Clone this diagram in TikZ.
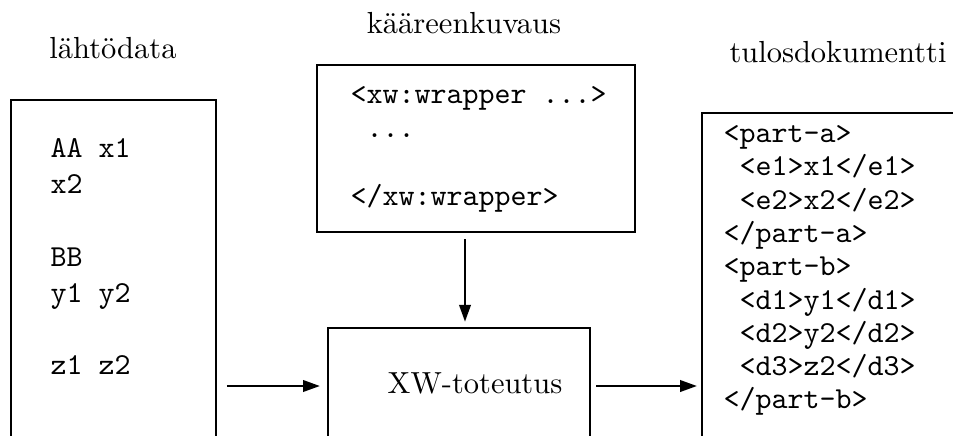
\documentclass[tikz,border=0pt]{standalone}
\usepackage{fontspec}
\usetikzlibrary{arrows.meta,fit}
\begin{document}
\begin{tikzpicture}[x=0.328pt,y=-0.328pt,
  box/.style={draw, line width=0.95pt, inner sep=0pt, outer sep=0pt},
  arr/.style={line width=0.95pt, -{Triangle[length=5.6pt,width=3.7pt]}},
  code/.style={font=\ttfamily\fontsize{10pt}{12pt}\selectfont, anchor=base west, inner sep=0pt},
  lbl/.style={font=\rmfamily\fontsize{10pt}{12pt}\selectfont, anchor=base, inner sep=0pt}]
\useasboundingbox (0,0) rectangle (953,435);
\clip (0,0) rectangle (953,435);
% boxes
\node[box, fit={(11,100) (216,520)}] (src) {};
\node[box, fit={(317,65) (635,232)}] (wrap) {};
\node[box, fit={(328,328) (590,444)}] (xw) {};
\node[box, fit={(702,113) (1010,520)}] (out) {};
% titles
\node[lbl] (tsrc) at (113,58) {lähtödata};
\node[lbl] (twrap) at (464,33) {kääreenkuvaus};
\node[lbl] (tout) at (838,62) {tulosdokumentti};
\node[lbl] (txw) at (475,393) {XW-toteutus};
% source data
\node[code] (s1) at (50,157) {AA x1};
\node[code] (s2) at (50,193) {x2};
\node[code] (s3) at (50,266) {BB};
\node[code] (s4) at (50,302) {y1 y2};
\node[code] (s5) at (50,374) {z1 z2};
% wrapper description
\node[code] (w1) at (350,103) {<xw:wrapper ...>};
\node[code] (w2) at (350,137) {\hphantom{x}...};
\node[code] (w3) at (350,205) {</xw:wrapper>};
% output
\node[code] (o1) at (723,142) {<part-a>};
\node[code] (o2) at (723,175) {\hphantom{x}<e1>x1</e1>};
\node[code] (o3) at (723,209) {\hphantom{x}<e2>x2</e2>};
\node[code] (o4) at (723,242) {</part-a>};
\node[code] (o5) at (723,275) {<part-b>};
\node[code] (o6) at (723,309) {\hphantom{x}<d1>y1</d1>};
\node[code] (o7) at (723,342) {\hphantom{x}<d2>y2</d2>};
\node[code] (o8) at (723,375) {\hphantom{x}<d3>z2</d3>};
\node[code] (o9) at (723,408) {</part-b>};
% connectors
\coordinate (vx) at (465,0);
\draw[arr, shorten <=3.6pt, shorten >=2.6pt] (src.east |- xw.west) -- (xw.west);
\draw[arr, shorten <=2pt, shorten >=1.6pt] (xw.east) -- (out.west |- xw.east);
\draw[arr, shorten <=2.3pt, shorten >=2pt] (wrap.south -| vx) -- (xw.north -| vx);
\end{tikzpicture}
\end{document}
